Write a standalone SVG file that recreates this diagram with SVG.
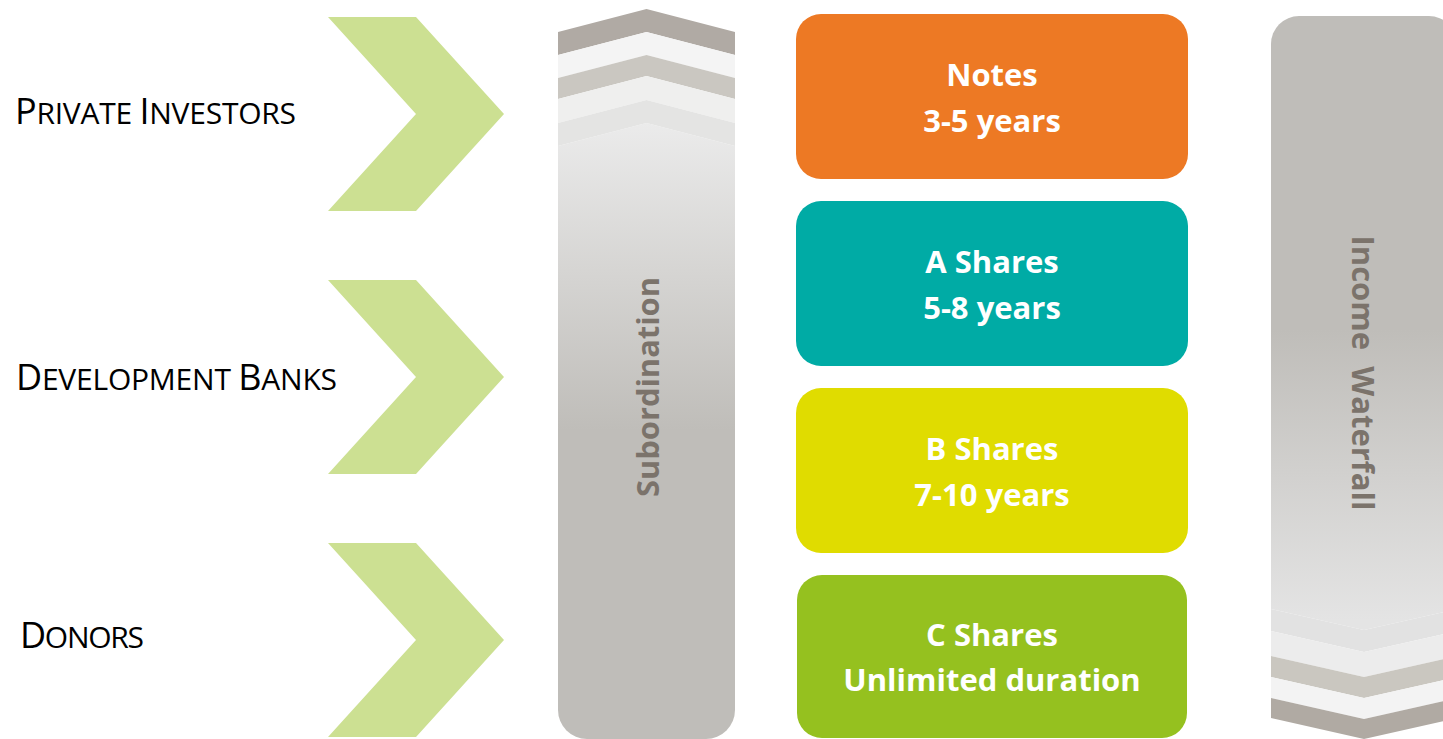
<svg xmlns="http://www.w3.org/2000/svg" width="1443" height="739" viewBox="0 0 1443 739">
  <style>
    .lbl { font-family: "Open Sans", "Liberation Sans", sans-serif; fill: #000000; }
    .big { font-size: 36px; }
    .sm { font-size: 30px; }
    .box text { font-family: "Open Sans", "Liberation Sans", sans-serif; font-weight: bold; font-size: 31px; fill: #ffffff; text-anchor: middle; }
    .vert { font-family: "Open Sans", "Liberation Sans", sans-serif; font-weight: bold; font-size: 30px; fill: #7b736b; text-anchor: middle; white-space: pre; }
    .chev { fill: #cce092; }
  </style>
  <defs>
    <linearGradient id="gLeft" gradientUnits="userSpaceOnUse" x1="0" y1="123" x2="0" y2="430">
      <stop offset="0" stop-color="#ebebeb"/>
      <stop offset="1" stop-color="#bfbdb9"/>
    </linearGradient>
    <linearGradient id="gRight" gradientUnits="userSpaceOnUse" x1="0" y1="330" x2="0" y2="620">
      <stop offset="0" stop-color="#bfbdb9"/>
      <stop offset="1" stop-color="#e4e4e4"/>
    </linearGradient>
  </defs>

  <g id="sources">
    <g id="private-investors">
      <polygon class="chev" points="328,17 416,17 504,114 416,211 328,211 416,114"/>
      <text class="lbl" x="15" y="124" textLength="281" lengthAdjust="spacing"><tspan class="big">P</tspan><tspan class="sm">RIVATE </tspan><tspan class="big">I</tspan><tspan class="sm">NVESTORS</tspan></text>
    </g>
    <g id="development-banks">
      <polygon class="chev" points="328,280 416,280 504,377 416,474 328,474 416,377"/>
      <text class="lbl" x="16" y="390" textLength="321" lengthAdjust="spacing"><tspan class="big">D</tspan><tspan class="sm">EVELOPMENT </tspan><tspan class="big">B</tspan><tspan class="sm">ANKS</tspan></text>
    </g>
    <g id="donors">
      <polygon class="chev" points="328,543 416,543 504,640 416,737 328,737 416,640"/>
      <text class="lbl" x="20" y="648" textLength="124" lengthAdjust="spacing"><tspan class="big">D</tspan><tspan class="sm">ONORS</tspan></text>
    </g>
  </g>

  <g id="subordination">
    <path d="M558,146 L646.5,123 L735,146 V710 A29,29 0 0 1 706,739 H587 A29,29 0 0 1 558,710 Z" fill="url(#gLeft)"/>
    <polygon points="558,32 646.5,9 735,32 735,55 646.5,32 558,55" fill="#b0aaa4"/>
    <polygon points="558,55 646.5,32 735,55 735,78 646.5,55 558,78" fill="#f4f4f4"/>
    <polygon points="558,78 646.5,55 735,78 735,99 646.5,76 558,99" fill="#cac7c1"/>
    <polygon points="558,99 646.5,76 735,99 735,123 646.5,100 558,123" fill="#efefee"/>
    <polygon points="558,123 646.5,100 735,123 735,146 646.5,123 558,146" fill="#e4e4e3"/>
    <text class="vert" transform="translate(659,387) rotate(-90)" x="0" y="0" textLength="220" lengthAdjust="spacingAndGlyphs">Subordination</text>
  </g>

  <g id="notes" class="box">
    <rect x="796" y="14" width="392" height="165" rx="25" fill="#ed7924"/>
    <text x="992" y="86">Notes</text>
    <text x="992" y="132">3-5 years</text>
  </g>
  <g id="a-shares" class="box">
    <rect x="796" y="201" width="392" height="165" rx="25" fill="#00aba5"/>
    <text x="992" y="273">A Shares</text>
    <text x="992" y="319">5-8 years</text>
  </g>
  <g id="b-shares" class="box">
    <rect x="796" y="388" width="392" height="165" rx="25" fill="#e0dc00"/>
    <text x="992" y="460">B Shares</text>
    <text x="992" y="506">7-10 years</text>
  </g>
  <g id="c-shares" class="box">
    <rect x="797" y="575" width="390" height="163" rx="25" fill="#95c11f"/>
    <text x="992" y="646">C Shares</text>
    <text x="992" y="691">Unlimited duration</text>
  </g>

  <g id="income-waterfall">
    <path d="M1271,44 A28,28 0 0 1 1299,16 H1429 A28,28 0 0 1 1457,44 V609 L1364,630 L1271,609 Z" fill="url(#gRight)"/>
    <polygon points="1271,609 1364,630 1457,609 1457,631 1364,652 1271,631" fill="#e2e2e2"/>
    <polygon points="1271,631 1364,652 1457,631 1457,656 1364,677 1271,656" fill="#ececec"/>
    <polygon points="1271,656 1364,677 1457,656 1457,677 1364,698 1271,677" fill="#cac7c0"/>
    <polygon points="1271,677 1364,698 1457,677 1457,698 1364,719 1271,698" fill="#f3f3f3"/>
    <polygon points="1271,698 1364,719 1457,698 1457,718 1364,739 1271,718" fill="#b0aaa3"/>
    <text class="vert" transform="translate(1352,373) rotate(90)" x="0" y="0" textLength="275" lengthAdjust="spacingAndGlyphs">Income  Waterfall</text>
  </g>

  <g id="connectors"/>
</svg>
